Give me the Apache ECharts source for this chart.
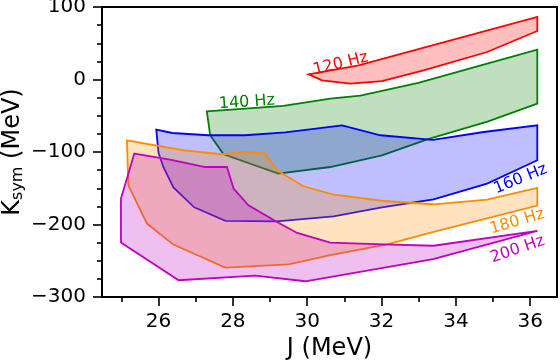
<!DOCTYPE html>
<html>
<head>
<meta charset="utf-8">
<script src="https://cdn.jsdelivr.net/npm/echarts@6/dist/echarts.min.js"></script>
<style>html,body{margin:0;padding:0;background:#fff}#c{width:560px;height:360px}</style>
</head>
<body>
<div id="c"></div>
<script>
// Region boundaries (J [MeV], Ksym [MeV])
const red120 = [[30.04,7.2],[31.38,19.6],[36.19,86.2],[36.19,66.9],[34.84,37.9],[33.13,12.7],[32.01,-2.1],[31.16,-5.6],[30.40,-1.1]];
const green140 = [[27.30,-43.9],[29.36,-36.3],[30.62,-26.3],[31.43,-22.2],[32.99,-4.8],[34.84,21.9],[36.19,41.2],[36.19,-33.2],[34.85,-58.0],[33.27,-82.0],[32.01,-104.5],[30.62,-120.7],[29.22,-129.8],[27.75,-103.1],[27.39,-76.9]];
const blue160 = [[25.94,-69.1],[26.37,-73.8],[27.34,-76.9],[28.33,-76.9],[29.41,-72.8],[30.94,-63.4],[31.97,-76.9],[33.38,-83.4],[34.75,-72.4],[36.19,-63.2],[36.19,-111.4],[34.84,-143.6],[33.40,-165.2],[31.97,-176.7],[30.71,-188.7],[29.19,-195.6],[27.80,-194.9],[26.96,-176.3],[26.40,-148.9],[26.13,-120.6],[26.00,-101.1]];
const orange180 = [[25.15,-83.9],[26.66,-97.6],[27.69,-103.1],[28.36,-100.0],[28.86,-101.8],[29.19,-125.2],[29.88,-146.9],[30.68,-158.3],[32.06,-167.6],[33.40,-172.1],[34.84,-165.6],[36.19,-149.6],[36.19,-173.9],[33.40,-210.3],[32.15,-227.3],[30.62,-242.4],[29.50,-254.9],[27.80,-259.4],[26.40,-227.7],[25.69,-198.7],[25.19,-145.9]];
const magenta200 = [[25.35,-102.2],[26.31,-110.4],[27.26,-120.7],[27.84,-120.7],[28.02,-150.4],[28.42,-173.5],[29.19,-196.5],[29.73,-211.7],[30.62,-225.0],[32.06,-227.3],[33.40,-229.3],[36.19,-208.7],[33.39,-247.7],[29.95,-278.3],[28.60,-270.4],[26.54,-276.9],[24.99,-224.9],[24.99,-164.2]];

const regionNames = ['120 Hz','140 Hz','160 Hz','180 Hz','200 Hz'];
const regionData = [red120, green140, blue160, orange180, magenta200];
const xMajorTicks = [26,28,30,32,34,36];
const xMinorTicks = [25,27,29,31,33,35];
const xRange = [24.48, 36.72];
const yRange = [-300, 100];
// label anchor points in data coordinates, with rotation (deg)
const labelAnchors = [[30.90,21.7,14],[28.38,-31.4,4],[35.74,-137.3,22],[35.65,-196.0,16.5],[35.66,-234.4,19]];

const strokes = ['#ff0000','#008000','#0000ff','#ff8c00','#bf00bf'];
const fills = ['rgba(255,0,0,0.25)','rgba(0,128,0,0.25)','rgba(0,0,255,0.25)','rgba(255,140,0,0.25)','rgba(191,0,191,0.25)'];
const FONT = 'DejaVu Sans';

const chart = echarts.init(document.getElementById('c'), null, {renderer:'canvas', width: 560, height: 360});

const series = regionData.map((poly, i) => ({
  type: 'custom',
  name: regionNames[i],
  xAxisIndex: 0, yAxisIndex: 0,
  data: poly,
  encode: {x: 0, y: 1},
  silent: true,
  animation: false,
  renderItem: function (params, api) {
    if (params.dataIndex !== 0) return null;
    const pts = poly.map(p => api.coord(p));
    return {
      type: 'polygon',
      shape: {points: pts},
      style: {fill: fills[i], stroke: strokes[i], lineWidth: 1.8, lineJoin: 'miter'}
    };
  }
}));

chart.setOption({
  animation: false,
  backgroundColor: '#fff',
  grid: {left: 102, right: 3, top: 7, bottom: 63, show: true, borderColor: '#000', borderWidth: 2, containLabel: false, outerBoundsMode: 'none'},
  xAxis: [{
    type: 'value', min: xRange[0], max: xRange[1], position: 'bottom',
    axisLine: {show: true, onZero: false, lineStyle: {color: '#000', width: 2}},
    splitLine: {show: false},
    axisTick: {show: true, length: 9, lineStyle: {color: '#000', width: 1.6}, customValues: xMajorTicks},
    axisLabel: {show: true, customValues: xMajorTicks, margin: 15, color: '#000', fontSize: 20, fontFamily: FONT},
    name: 'J (MeV)', nameLocation: 'middle', nameGap: 39,
    nameTextStyle: {color: '#000', fontSize: 24, fontFamily: FONT}
  }, {
    type: 'value', min: xRange[0], max: xRange[1], position: 'bottom',
    axisLine: {show: false, onZero: false},
    splitLine: {show: false},
    axisTick: {show: true, length: 5, lineStyle: {color: '#000', width: 1.6}, customValues: xMinorTicks},
    axisLabel: {show: false}
  }],
  yAxis: {
    type: 'value', min: yRange[0], max: yRange[1], interval: 100,
    axisLine: {show: true, onZero: false, lineStyle: {color: '#000', width: 2}},
    splitLine: {show: false},
    axisTick: {show: true, length: 9, lineStyle: {color: '#000', width: 1.6}},
    minorTick: {show: true, splitNumber: 4, length: 5, lineStyle: {color: '#000', width: 1.6}},
    minorSplitLine: {show: false},
    axisLabel: {margin: 16, color: '#000', fontSize: 20, fontFamily: FONT,
      formatter: v => (v < 0 ? '\u2212' + (-v) : String(v))}
  },
  series: series
});

const graphics = labelAnchors.map((a, i) => {
  const p = chart.convertToPixel({xAxisIndex: 0, yAxisIndex: 0}, [a[0], a[1]]);
  return {
    type: 'text', x: p[0], y: p[1], rotation: a[2] * Math.PI / 180, silent: true,
    style: {text: regionNames[i], fill: strokes[i], fontSize: 16, fontFamily: FONT, align: 'center', verticalAlign: 'middle'}
  };
});
// y-axis title (with subscript), centred on the plot's vertical middle
const yMid = chart.convertToPixel({yAxisIndex: 0}, (yRange[0] + yRange[1]) / 2);
graphics.push({
  type: 'text', x: 13, y: yMid, rotation: Math.PI / 2, silent: true,
  style: {
    text: '{k|K}{s|sym}{k| (MeV)}', align: 'center', verticalAlign: 'middle',
    fontFamily: FONT, fontSize: 24, fill: '#000',
    rich: {
      k: {fontSize: 24, fontFamily: FONT, fill: '#000', lineHeight: 26},
      s: {fontSize: 16, fontFamily: FONT, fill: '#000', lineHeight: 12, verticalAlign: 'bottom'}
    }
  }
});
chart.setOption({graphic: graphics});
</script>
</body>
</html>
